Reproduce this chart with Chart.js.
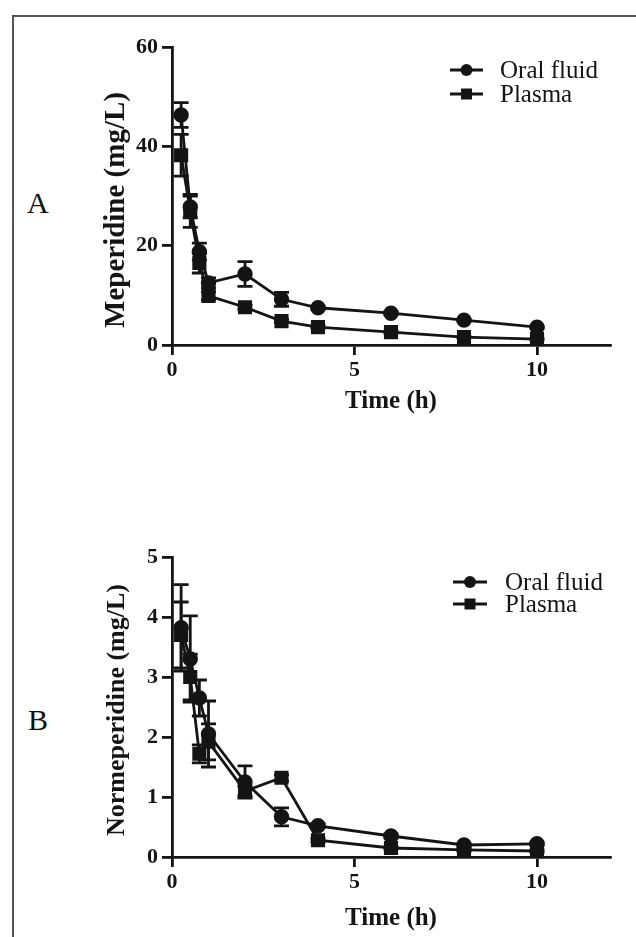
<!DOCTYPE html>
<html><head><meta charset="utf-8">
<script src="https://cdn.jsdelivr.net/npm/chart.js@4.4.1/dist/chart.umd.min.js"></script>
<style>
html,body{margin:0;padding:0;background:#fff;width:636px;height:937px;overflow:hidden;}
#frame{position:absolute;left:12px;top:15px;width:700px;height:1000px;border-top:2px solid #555;border-left:2px solid #555;}
.lab{position:absolute;font-family:"Liberation Serif",serif;font-size:30px;line-height:30px;color:#111;}
#ca{position:absolute;left:0;top:0;}
#cb{position:absolute;left:0;top:512px;}
</style></head>
<body>
<div id="frame"></div>
<div class="lab" style="left:27px;top:188px">A</div>
<div class="lab" style="left:28px;top:705px">B</div>
<canvas id="ca" width="636" height="440"></canvas>
<canvas id="cb" width="636" height="425"></canvas>
<script>
// ---- data ----
const times = [0.25, 0.5, 0.75, 1, 2, 3, 4, 6, 8, 10];
const xTicks = [0, 5, 10];
const seriesNames = ['Oral fluid', 'Plasma'];

const meperOral      = [46.3, 27.8, 18.8, 12.5, 14.3, 9.2, 7.5, 6.4, 5.0, 3.6];
const meperOralErr   = [2.5, 2.2, 1.7, 1.0, 2.5, 1.4, 0.3, 0.3, 0.2, 0.2];
const meperPlasma    = [38.2, 27.0, 16.5, 9.9, 7.6, 4.8, 3.6, 2.6, 1.6, 1.2];
const meperPlasmaErr = [4.2, 3.3, 2.0, 0.8, 0.4, 0.3, 0.2, 0.2, 0.1, 0.1];
const meperTicks = [0, 20, 40, 60];

const normOral      = [3.82, 3.3, 2.65, 2.05, 1.25, 0.67, 0.52, 0.35, 0.20, 0.22];
const normOralErr   = [0.72, 0.72, 0.3, 0.55, 0.27, 0.15, 0.03, 0.03, 0.02, 0.02];
const normPlasma    = [3.7, 3.0, 1.72, 1.92, 1.1, 1.32, 0.28, 0.15, 0.12, 0.10];
const normPlasmaErr = [0.55, 0.38, 0.15, 0.3, 0.08, 0.05, 0.03, 0.02, 0.02, 0.02];
const normTicks = [0, 1, 2, 3, 4, 5];

// ---- styling ----
const INK = '#141414';
Chart.defaults.font.family = '"Liberation Serif", "Times New Roman", serif';
Chart.defaults.color = INK;

const errorBars = {
  id: 'errorBars',
  afterDatasetsDraw(chart) {
    const ctx = chart.ctx, xs = chart.scales.x, ys = chart.scales.y;
    chart.data.datasets.forEach(ds => {
      if (!ds.errors) return;
      ctx.save();
      ctx.strokeStyle = INK; ctx.lineWidth = 2.8; ctx.lineCap = 'butt';
      ds.data.forEach((p, j) => {
        const e = ds.errors[j]; if (!e) return;
        const x = xs.getPixelForValue(p.x);
        const y1 = ys.getPixelForValue(p.y + e), y2 = ys.getPixelForValue(p.y - e);
        ctx.beginPath();
        ctx.moveTo(x, y1); ctx.lineTo(x, y2);
        ctx.moveTo(x - 7.5, y1); ctx.lineTo(x + 7.5, y1);
        ctx.moveTo(x - 7.5, y2); ctx.lineTo(x + 7.5, y2);
        ctx.stroke();
      });
      ctx.restore();
    });
  }
};

const sideLegend = {
  id: 'sideLegend',
  afterDraw(chart, args, o) {
    if (!o || o.x === undefined) return;
    const ctx = chart.ctx;
    chart.data.datasets.forEach((ds, i) => {
      const y = o.y + i * o.gap;
      ctx.save();
      ctx.strokeStyle = INK; ctx.fillStyle = INK; ctx.lineWidth = 2.8;
      ctx.beginPath(); ctx.moveTo(o.x, y); ctx.lineTo(o.x + o.len, y); ctx.stroke();
      const cx = o.x + o.len / 2;
      ctx.beginPath();
      if (ds.pointStyle === 'rect') ctx.rect(cx - 5.5, y - 5.5, 11, 11);
      else ctx.arc(cx, y, 6, 0, Math.PI * 2);
      ctx.fill();
      ctx.font = o.size + 'px "Liberation Serif", serif';
      ctx.textBaseline = 'middle'; ctx.textAlign = 'left';
      ctx.fillText(ds.label, o.x + o.len + o.textGap, y + 1);
      ctx.restore();
    });
  }
};

const yTitle = {
  id: 'yTitle',
  afterDraw(chart, args, o) {
    if (!o || !o.text) return;
    const ctx = chart.ctx;
    ctx.save();
    ctx.translate(o.x, o.y);
    ctx.rotate(-Math.PI / 2);
    ctx.font = 'bold ' + o.size + 'px "Liberation Serif", serif';
    ctx.fillStyle = INK; ctx.textAlign = 'center'; ctx.textBaseline = 'middle';
    ctx.fillText(o.text, 0, 0);
    ctx.restore();
  }
};

function makeChart(id, oral, oralErr, plasma, plasmaErr, yTicks, yMax, cfg) {
  const toPts = arr => times.map((t, i) => ({ x: t, y: arr[i] }));
  return new Chart(document.getElementById(id), {
    type: 'line',
    data: {
      datasets: [
        { label: seriesNames[0], data: toPts(oral), errors: oralErr, pointStyle: 'circle', pointRadius: 6.3,
          borderColor: INK, backgroundColor: INK, pointBackgroundColor: INK, borderWidth: 2.8, tension: 0, clip: false },
        { label: seriesNames[1], data: toPts(plasma), errors: plasmaErr, pointStyle: 'rect', pointRadius: 8,
          borderColor: INK, backgroundColor: INK, pointBackgroundColor: INK, borderWidth: 2.8, tension: 0, clip: false }
      ]
    },
    options: {
      responsive: false, animation: false, events: [],
      layout: { padding: { left: 0, right: 26, top: cfg.top, bottom: cfg.bottom } },
      plugins: {
        legend: { display: false }, tooltip: { enabled: false },
        sideLegend: cfg.legend,
        yTitle: cfg.ytitle
      },
      scales: {
        x: {
          type: 'linear', min: 0, max: 12,
          afterBuildTicks: s => { s.ticks = xTicks.map(v => ({ value: v })); },
          afterFit: s => { s.height = cfg.xh; },
          border: { display: true, color: INK, width: 2.8 },
          grid: { drawOnChartArea: false, drawTicks: true, tickLength: 10, color: INK, lineWidth: 2.8 },
          ticks: { font: { size: 22, weight: 'bold' }, padding: 2, color: INK, maxRotation: 0 },
          title: { display: true, text: 'Time (h)', font: { size: 25, weight: 'bold' }, color: INK, padding: 0 }
        },
        y: {
          type: 'linear', min: 0, max: yMax,
          afterBuildTicks: s => { s.ticks = yTicks.map(v => ({ value: v })); },
          afterFit: s => { s.width = 172; },
          border: { display: true, color: INK, width: 2.8 },
          grid: { drawOnChartArea: false, drawTicks: true, tickLength: 10, color: INK, lineWidth: 2.8 },
          ticks: { font: { size: 22, weight: 'bold' }, padding: 4, color: INK }
        }
      }
    },
    plugins: [errorBars, sideLegend, yTitle]
  });
}

makeChart('ca', meperOral, meperOralErr, meperPlasma, meperPlasmaErr, meperTicks, 60, {
  top: 47, bottom: 23, xh: 72,
  legend: { x: 450, y: 70, gap: 24, len: 33, textGap: 17, size: 25 },
  ytitle: { text: 'Meperidine (mg/L)', x: 117, y: 210, size: 29 }
});
makeChart('cb', normOral, normOralErr, normPlasma, normPlasmaErr, normTicks, 5, {
  top: 45, bottom: 3, xh: 77,
  legend: { x: 453, y: 70, gap: 22, len: 34, textGap: 18, size: 25 },
  ytitle: { text: 'Normeperidine (mg/L)', x: 117, y: 198, size: 26 }
});
</script>
</body></html>
